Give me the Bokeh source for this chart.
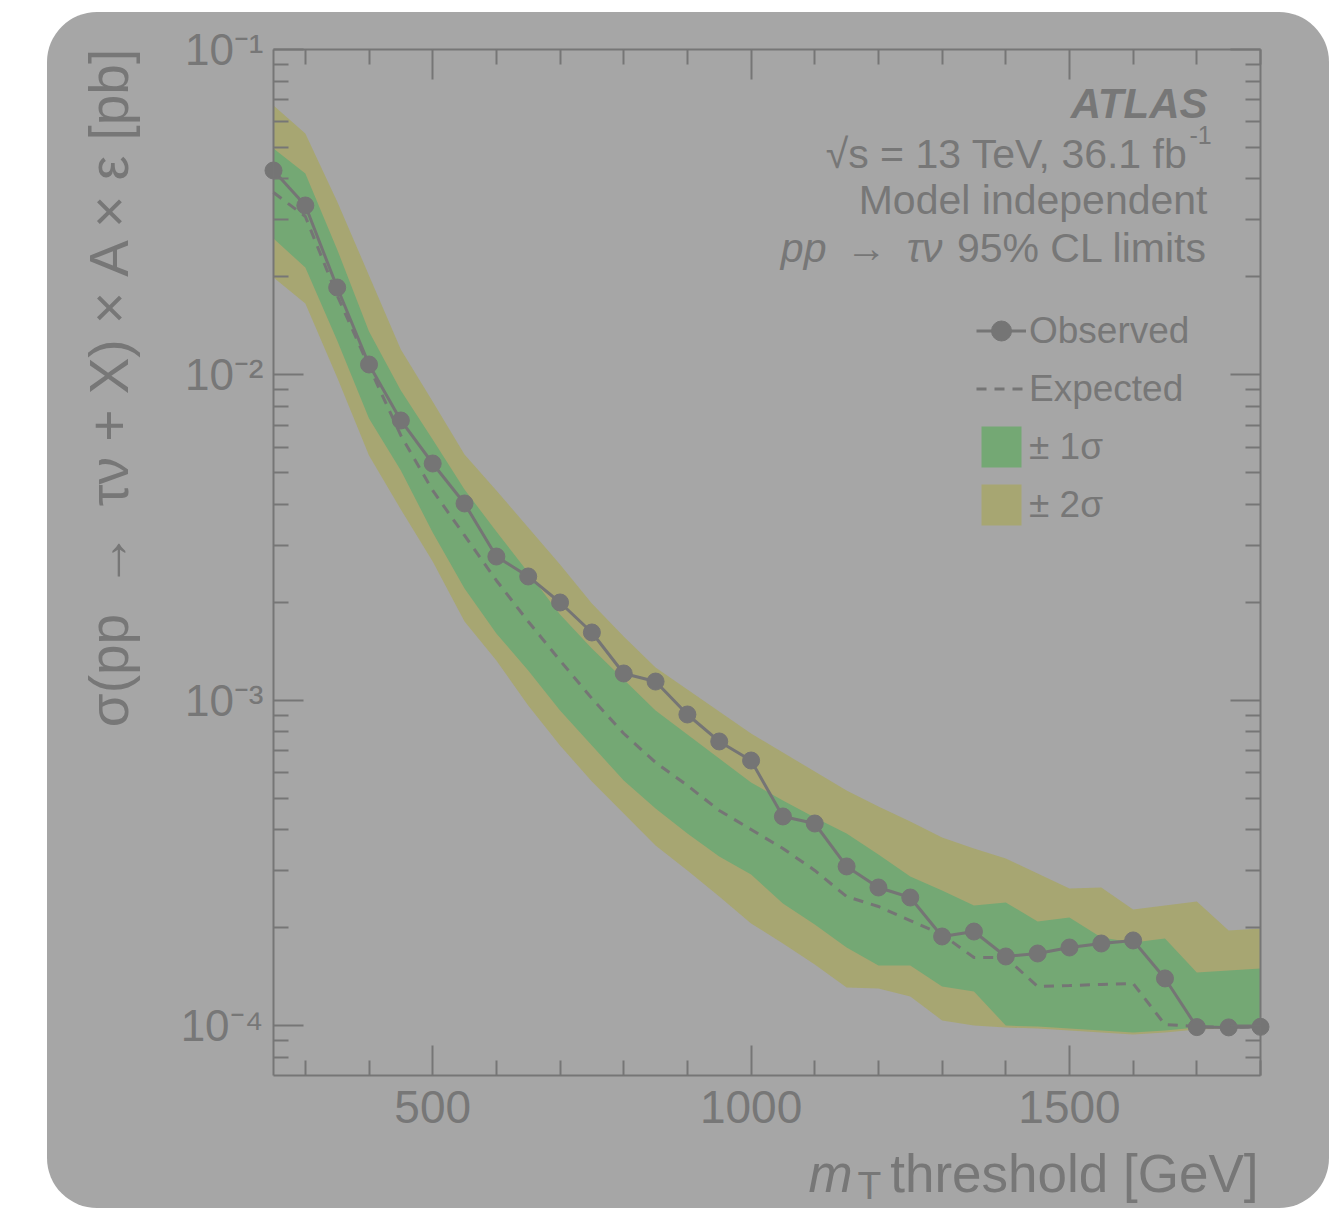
import math
from bokeh.plotting import figure
from bokeh.models import (Range1d, LogAxis, LinearAxis, FixedTicker, CustomJSTickFormatter,
                          Label, Legend, LegendItem)
from bokeh.embed import file_html
from bokeh.resources import INLINE

# ---------------- data ----------------
mt_threshold = [250, 300, 350, 400, 450, 500, 550, 600, 650, 700, 750, 800, 850, 900, 950, 1000,
                1050, 1100, 1150, 1200, 1250, 1300, 1350, 1400, 1450, 1500, 1550, 1600, 1650, 1700,
                1750, 1800]

observed = [0.04248, 0.03316, 0.01856, 0.010764, 0.007243, 0.005342, 0.004026, 0.002766, 0.002402,
            0.001998, 0.001616, 0.001209, 0.001142, 0.0009045, 0.0007473, 0.0006531, 0.0004395,
            0.0004182, 0.0003086, 0.0002659, 0.0002477, 0.0001880, 0.0001947, 0.0001632, 0.0001667,
            0.0001739, 0.0001789, 0.0001828, 0.0001397, 0.0000990, 0.0000988, 0.0000992]

expected = [0.03635, 0.03068, 0.01754, 0.010612, 0.006513, 0.004414, 0.003210, 0.002335, 0.001747,
            0.001325, 0.001013, 0.0007907, 0.000644, 0.0005472, 0.0004585, 0.0004009, 0.0003504,
            0.0003000, 0.0002495, 0.0002325, 0.0002105, 0.0001906, 0.0001620, 0.0001620, 0.0001320,
            0.0001329, 0.0001339, 0.0001348, 0.0001008, 0.0000994, 0.0000987, 0.0000994]

band2_up = [0.06728, 0.05519, 0.03411, 0.02021, 0.011968, 0.008285, 0.005693, 0.004414, 0.003397,
            0.002614, 0.001984, 0.001571, 0.001261, 0.001079, 0.0009238, 0.0007907, 0.0006912,
            0.0006041, 0.0005282, 0.0004717, 0.0004242, 0.0003789, 0.0003504, 0.0003265, 0.0002937,
            0.0002640, 0.0002659, 0.0002276, 0.0002341, 0.0002408, 0.0001961, 0.0001989]

band1_up = [0.04963, 0.04158, 0.02429, 0.013594, 0.008956, 0.006332, 0.004445, 0.003302, 0.002470,
            0.001835, 0.001443, 0.001159, 0.0009304, 0.0007851, 0.0006624, 0.0005589, 0.0004921,
            0.0004364, 0.0003897, 0.0003358, 0.0002875, 0.0002603, 0.0002341, 0.0002391, 0.0002090,
            0.0002150, 0.0001866, 0.0001802, 0.0001854, 0.0001457, 0.0001478, 0.0001499]

band1_dn = [0.02625, 0.02138, 0.012757, 0.007346, 0.005085, 0.003279, 0.002206, 0.001604, 0.001235,
            0.0009304, 0.0007263, 0.0005669, 0.0004651, 0.0003897, 0.0003311, 0.0002916, 0.0002374,
            0.0002046, 0.0001739, 0.0001531, 0.0001531, 0.0001320, 0.0001274, 0.0001001, 0.0000994,
            0.0000980, 0.0000967, 0.0000953, 0.0000967, 0.0000987, 0.0000994, 0.0001001]

band2_dn = [0.01992, 0.016575, 0.009818, 0.005653, 0.003859, 0.002670, 0.001747, 0.001325, 0.0009639,
            0.0007263, 0.0005629, 0.0004489, 0.0003579, 0.0003000, 0.0002495, 0.0002061, 0.0001789,
            0.0001542, 0.0001310, 0.0001301, 0.0001230, 0.0001038, 0.0001001, 0.0000987, 0.0000980,
            0.0000967, 0.0000953, 0.0000940, 0.0000953, 0.0000974, 0.0000980, 0.0000987]

x_limits = (250, 1800)
y_limits = (7.03e-5, 0.1)
x_major_ticks = [500, 1000, 1500]
x_minor_ticks = [300, 400, 600, 700, 800, 900, 1100, 1200, 1300, 1400, 1600, 1700, 1800]
y_major_ticks = [1e-4, 1e-3, 1e-2, 1e-1]
y_minor_ticks = [m * 10.0 ** e for e in (-5, -4, -3, -2) for m in (2, 3, 4, 5, 6, 7, 8, 9)
                 if y_limits[0] <= m * 10.0 ** e <= y_limits[1]]

# ---------------- layout (pixels) ----------------
FIG_X, FIG_Y = 47, 12            # card position on the page
FIG_W, FIG_H = 1282, 1196        # card size
BOX_L, BOX_R = 273, 1260         # plotting box on the page
BOX_T, BOX_B = 49, 1075

# ranges: the Bokeh frame covers the whole card; the visible box is drawn by bounded axes
kx = (BOX_R - BOX_L) / (x_limits[1] - x_limits[0])
x0 = x_limits[0] - (BOX_L - FIG_X) / kx
x1 = x0 + FIG_W / kx
ly0, ly1 = math.log10(y_limits[0]), math.log10(y_limits[1])
ky = (BOX_B - BOX_T) / (ly1 - ly0)
top_log = ly1 + (BOX_T - FIG_Y) / ky
bot_log = ly0 - (FIG_Y + FIG_H - BOX_B) / ky

BG = "#a6a6a6"
AX = "#767676"
TXT = "#777777"
LINE = "#757575"
GREEN = "#74a874"
YELLOW = "#a7a672"
FONT = "Liberation Sans"

p = figure(width=FIG_W, height=FIG_H,
           x_range=Range1d(x0, x1), y_range=Range1d(10 ** bot_log, 10 ** top_log),
           y_axis_type="log", output_backend="svg", toolbar_location=None,
           min_border=0, min_border_left=0, min_border_right=0,
           min_border_top=0, min_border_bottom=0)
p.margin = (FIG_Y, 0, 0, FIG_X)
p.styles = {"border-radius": "50px", "background-color": BG, "overflow": "hidden"}
p.border_fill_color = None
p.background_fill_color = None
p.outline_line_color = None
p.grid.visible = False

g2 = p.varea(x=mt_threshold, y1=band2_dn, y2=band2_up, fill_color=YELLOW)
g1 = p.varea(x=mt_threshold, y1=band1_dn, y2=band1_up, fill_color=GREEN)
exp_line = p.line(mt_threshold, expected, line_color=LINE, line_width=3, line_dash="10 8")
obs_line = p.line(mt_threshold, observed, line_color=LINE, line_width=3)
obs_pts = p.scatter(mt_threshold, observed, size=17, fill_color=LINE, line_color=LINE)

blank = CustomJSTickFormatter(code="return ''")
sup_fmt = CustomJSTickFormatter(code="""
const sup = {'-': '\u207b', '0': '\u2070', '1': '\u00b9', '2': '\u00b2', '3': '\u00b3',
             '4': '\u2074', '5': '\u2075', '6': '\u2076', '7': '\u2077', '8': '\u2078', '9': '\u2079'};
const e = Math.round(Math.log10(tick));
return '10' + String(e).split('').map(c => sup[c]).join('');
""")

def style_axis(ax):
    ax.axis_line_color = AX
    ax.axis_line_width = 2
    ax.major_tick_line_color = AX
    ax.major_tick_line_width = 2
    ax.minor_tick_line_color = AX
    ax.minor_tick_line_width = 2
    ax.major_tick_in = 30
    ax.major_tick_out = 0
    ax.minor_tick_in = 15
    ax.minor_tick_out = 0
    ax.major_label_text_color = TXT
    ax.major_label_text_font = FONT

xt = FixedTicker(ticks=x_major_ticks, minor_ticks=x_minor_ticks)
yt = FixedTicker(ticks=y_major_ticks, minor_ticks=y_minor_ticks)

xb = p.xaxis[0]
xb.ticker = xt
style_axis(xb)
xb.bounds = x_limits
xb.fixed_location = y_limits[0]
xb.major_label_text_font_size = "46px"
xb.major_label_standoff = 15

yl = p.yaxis[0]
yl.ticker = yt
style_axis(yl)
yl.bounds = y_limits
yl.fixed_location = x_limits[0]
yl.formatter = sup_fmt
yl.major_label_text_font_size = "44px"
yl.major_label_standoff = 10

xtop = LinearAxis(ticker=xt, formatter=blank, bounds=x_limits, fixed_location=y_limits[1])
style_axis(xtop)
xtop.major_label_standoff = 0
p.add_layout(xtop, "above")

yr = LogAxis(ticker=yt, formatter=blank, bounds=y_limits, fixed_location=x_limits[1])
style_axis(yr)
yr.major_label_standoff = 0
p.add_layout(yr, "right")

# ---------------- texts (screen units relative to the card's bottom-left) ----------------
BASE_FIX = 13
def lab(text, px, py, size, align="left", style="normal", angle=0.0):
    p.add_layout(Label(x=px - FIG_X, y=FIG_Y + FIG_H - py + BASE_FIX,
                       x_units="screen", y_units="screen", text=text,
                       text_font=FONT, text_font_size=size, text_font_style=style,
                       text_color=TXT, text_align=align, text_baseline="alphabetic", angle=angle))

lab("ATLAS", 1207, 116, "42px", align="right", style="bold italic")
lab("\u221as = 13 TeV, 36.1 fb", 1187, 166, "41px", align="right")
lab("-1", 1189, 147, "25px", align="left")
lab("Model independent", 1207, 212, "41px", align="right")
lab("95% CL limits", 1207, 260, "41px", align="right")
lab("pp \u2009\u2192\u2009 \u03c4\u03bd", 942, 260, "41px", align="right", style="italic")

# x-axis title
lab("m", 808, 1186, "53px", style="italic")
lab("T", 857, 1198, "39px")
lab("threshold [GeV]", 1258, 1186, "53px", align="right")

# y-axis title (rotated; baseline on the right-hand side)
p.add_layout(Label(x=136 - FIG_X - 2 * BASE_FIX - 2, y=FIG_Y + FIG_H - 386,
                   x_units="screen", y_units="screen",
                   text="\u03c3(pp \u2009\u2192\u2009 \u03c4\u03bd + X) \u00d7 A \u00d7 \u03b5 [pb]",
                   text_font=FONT, text_font_size="55px", text_color=TXT,
                   text_align="center", text_baseline="alphabetic", angle=math.pi / 2))

legend = Legend(items=[
    LegendItem(label="Observed", renderers=[obs_line, obs_pts]),
    LegendItem(label="Expected", renderers=[exp_line]),
    LegendItem(label="\u00b1 1\u03c3", renderers=[g1]),
    LegendItem(label="\u00b1 2\u03c3", renderers=[g2]),
], location=(976 - FIG_X, FIG_Y + FIG_H - 530))
legend.border_line_alpha = 0
legend.background_fill_alpha = 0
legend.padding = 0
legend.margin = 0
legend.glyph_width = 50
legend.glyph_height = 51
legend.spacing = 7
legend.label_standoff = 3
legend.label_text_font = FONT
legend.label_text_font_size = "37px"
legend.label_text_color = TXT
p.add_layout(legend)

open("out.html", "w").write(file_html(p, INLINE))
